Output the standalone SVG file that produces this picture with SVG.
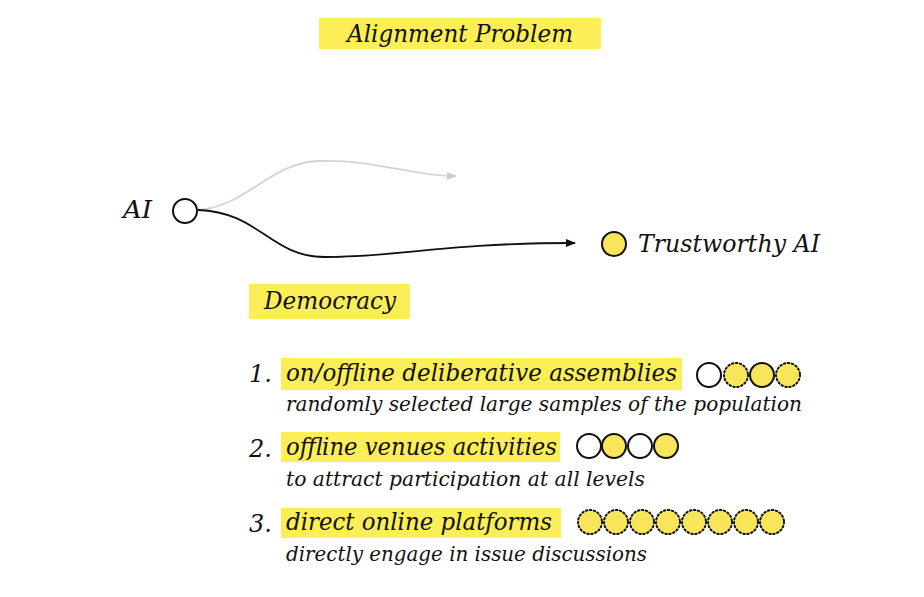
<svg xmlns="http://www.w3.org/2000/svg" width="924" height="597" viewBox="0 0 924 597">
<style>
text{font-family:"DejaVu Serif","Liberation Serif",serif;font-style:italic;fill:#111}
.t{font-size:24px}
.s{font-size:21px}
.hl{fill:#FCEE56}
.c{stroke:#111;stroke-width:2}
.w{fill:#fff}
.y{fill:#F9E55A}
.d{stroke-dasharray:1.5 2.5;stroke-linecap:round}
</style>
<defs>
<marker id="ag" markerWidth="10" markerHeight="8" refX="9" refY="4" orient="auto" markerUnits="userSpaceOnUse"><path d="M0,0 L10,4 L0,8 z" fill="#ccc"/></marker>
<marker id="ab" markerWidth="10" markerHeight="8" refX="9" refY="4" orient="auto" markerUnits="userSpaceOnUse"><path d="M0,0 L10,4 L0,8 z" fill="#111"/></marker>
</defs>
<rect width="924" height="597" fill="#fff"/>
<g id="title">
<rect class="hl" x="319" y="18" width="282" height="31"/>
<text class="t" x="347" y="42" textLength="226" lengthAdjust="spacingAndGlyphs">Alignment Problem</text>
</g>
<g id="connectors" fill="none">
<path d="M198,210 C250,205 270,162 320,161 C380,160 410,176 456,176" stroke="#d4d4d4" stroke-width="1.8" marker-end="url(#ag)"/>
<path d="M198,210 C260,212 270,257 325,257 C400,257 440,243 575,243" stroke="#111" stroke-width="1.8" marker-end="url(#ab)"/>
</g>
<g id="ai">
<text class="t" x="123" y="218" textLength="29" lengthAdjust="spacingAndGlyphs">AI</text>
<circle class="c w" cx="185" cy="211" r="12"/>
</g>
<g id="trustworthy">
<circle class="c y" cx="614" cy="244" r="12"/>
<text class="t" x="638" y="252" textLength="182" lengthAdjust="spacingAndGlyphs">Trustworthy AI</text>
</g>
<g id="democracy">
<rect class="hl" x="249" y="284" width="161" height="35"/>
<text class="t" x="264" y="309" textLength="132" lengthAdjust="spacingAndGlyphs">Democracy</text>
</g>
<g id="item1">
<text class="t" x="249" y="382">1.</text>
<rect class="hl" x="281" y="358" width="401" height="32"/>
<text class="t" x="286" y="381" textLength="391" lengthAdjust="spacingAndGlyphs">on/offline deliberative assemblies</text>
<circle class="c w" cx="709" cy="375" r="12"/>
<circle class="c y d" cx="736" cy="375" r="12"/>
<circle class="c y" cx="762" cy="375" r="12"/>
<circle class="c y d" cx="788" cy="375" r="12"/>
<text class="s" x="286" y="411" textLength="516" lengthAdjust="spacingAndGlyphs">randomly selected large samples of the population</text>
</g>
<g id="item2">
<text class="t" x="249" y="457">2.</text>
<rect class="hl" x="281" y="432" width="279" height="30"/>
<text class="t" x="286" y="455" textLength="271" lengthAdjust="spacingAndGlyphs">offline venues activities</text>
<circle class="c w" cx="589" cy="446" r="12"/>
<circle class="c y" cx="614" cy="446" r="12"/>
<circle class="c w" cx="640" cy="446" r="12"/>
<circle class="c y" cx="666" cy="446" r="12"/>
<text class="s" x="286" y="486" textLength="359" lengthAdjust="spacingAndGlyphs">to attract participation at all levels</text>
</g>
<g id="item3">
<text class="t" x="249" y="532">3.</text>
<rect class="hl" x="281" y="508" width="280" height="30"/>
<text class="t" x="286" y="530" textLength="266" lengthAdjust="spacingAndGlyphs">direct online platforms</text>
<circle class="c y d" cx="590" cy="522" r="12"/>
<circle class="c y d" cx="616" cy="522" r="12"/>
<circle class="c y d" cx="642" cy="522" r="12"/>
<circle class="c y d" cx="668" cy="522" r="12"/>
<circle class="c y d" cx="694" cy="522" r="12"/>
<circle class="c y d" cx="720" cy="522" r="12"/>
<circle class="c y d" cx="746" cy="522" r="12"/>
<circle class="c y d" cx="772" cy="522" r="12"/>
<text class="s" x="286" y="561" textLength="361" lengthAdjust="spacingAndGlyphs">directly engage in issue discussions</text>
</g>
</svg>
